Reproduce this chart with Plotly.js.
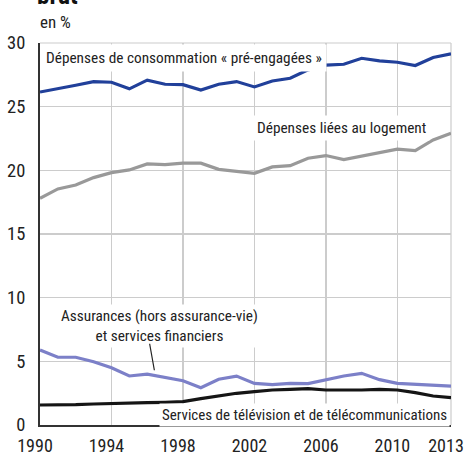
<!DOCTYPE html>
<html><head><meta charset="utf-8">
<script src="https://cdn.plot.ly/plotly-3.0.1.min.js"></script>
<style>html,body{margin:0;padding:0;background:#fff;}#c{width:465px;height:457px;}</style>
</head><body><div id="c"></div>
<script>
const years = [1990,1991,1992,1993,1994,1995,1996,1997,1998,1999,2000,2001,2002,2003,2004,2005,2006,2007,2008,2009,2010,2011,2012,2013];
const preEngagees = [26.15,26.4,26.68,26.97,26.92,26.4,27.08,26.76,26.73,26.3,26.76,26.97,26.55,27.02,27.23,27.89,28.26,28.33,28.8,28.6,28.49,28.23,28.86,29.15];
const logement = [17.81,18.54,18.85,19.43,19.82,20.03,20.5,20.45,20.56,20.56,20.08,19.9,19.77,20.27,20.37,20.95,21.16,20.84,21.1,21.37,21.66,21.55,22.39,22.91];
const assurances = [5.89,5.32,5.32,4.97,4.5,3.85,4.0,3.72,3.48,2.93,3.59,3.84,3.27,3.17,3.27,3.25,3.53,3.85,4.06,3.56,3.27,3.22,3.14,3.06];
const telecom = [1.57,1.57,1.6,1.65,1.7,1.73,1.75,1.78,1.83,2.07,2.28,2.49,2.62,2.75,2.8,2.85,2.75,2.73,2.75,2.8,2.75,2.54,2.28,2.15];
const xTicks = [1990,1994,1998,2002,2006,2010,2013];
const yTicks = [0,5,10,15,20,25,30];

const F = '"Liberation Sans Narrow", "Arial Narrow", "Roboto Condensed", Roboto, sans-serif';
function tr(y, color){ return {x: years, y: y, type:'scatter', mode:'lines', line:{color:color, width:3.2}, hoverinfo:'skip'}; }
const data = [tr(logement,'#999999'), tr(assurances,'#7c80c8'), tr(telecom,'#151515'), tr(preEngagees,'#21409a')];

const layout = {
  width:465, height:457,
  margin:{l:40, r:14, t:43, b:32},
  paper_bgcolor:'#fff', plot_bgcolor:'#fff',
  showlegend:false,
  font:{family:F, size:15, color:'#222'},
  xaxis:{range:[1990,2013], tickvals:xTicks, ticktext:xTicks.map(String), showgrid:true, gridcolor:'#cccccc', gridwidth:1.2,
         showline:true, linecolor:'#333', linewidth:2, zeroline:false, ticks:'outside', ticklen:3, tickcolor:'rgba(0,0,0,0)',
         ticklabelshift:-5, ticklabeloverflow:'allow',
         tickfont:{family:F, size:18, color:'#222'}, fixedrange:true},
  yaxis:{range:[0,30], tickvals:yTicks, showgrid:true, gridcolor:'#cccccc', gridwidth:1.2,
         showline:true, linecolor:'#333', linewidth:2, zeroline:false, ticks:'outside', ticklen:9, tickcolor:'rgba(0,0,0,0)',
         tickfont:{family:F, size:18.5, color:'#222'}, fixedrange:true},
  shapes:[
    {type:'line', xref:'paper', yref:'paper', x0:0, x1:1, y0:1, y1:1, line:{color:'#cccccc', width:1.2}, layer:'below'},
    {type:'line', xref:'paper', yref:'paper', x0:1, x1:1, y0:0, y1:1, line:{color:'#cccccc', width:1.2}, layer:'below'}
  ],
  annotations:[
    {text:'<b>brut</b>', xref:'paper', yref:'paper', x:-0.012, y:1.0, yshift:31, xanchor:'left', yanchor:'bottom', showarrow:false, font:{family:F, size:25, color:'#111'}},
    {text:'en %', xref:'paper', yref:'paper', x:-0.005, y:1.0, yshift:9, xanchor:'left', yanchor:'bottom', showarrow:false, font:{family:F, size:17, color:'#222'}},
    {text:'Dépenses de consommation « pré-engagées »', xref:'x', yref:'y', x:1990.05, y:28.85, xanchor:'left', yanchor:'middle', showarrow:false, bgcolor:'#fff', borderpad:4, font:{family:F, size:15.3, color:'#222'}},
    {text:'Dépenses liées au logement', xref:'x', yref:'y', x:2011.85, y:23.3, xanchor:'right', yanchor:'middle', showarrow:false, bgcolor:'#fff', borderpad:3, font:{family:F, size:15.3, color:'#222'}},
    {text:'Assurances (hors assurance-vie)<br>et services financiers', xref:'x', yref:'y', x:1996.7, y:7.8, xanchor:'center', yanchor:'middle', align:'center', showarrow:false, bgcolor:'#fff', borderpad:2, font:{family:F, size:15.3, color:'#222'}},
    {text:'', xref:'x', yref:'y', x:1996.4, y:4.3, ax:-5, ay:-28, showarrow:true, arrowhead:0, arrowwidth:1.2, arrowcolor:'#222'},
    {text:'Services de télévision et de télécommunications', xref:'x', yref:'y', x:2012.92, y:0.75, xanchor:'right', yanchor:'middle', showarrow:false, bgcolor:'#fff', borderpad:2, font:{family:F, size:15.0, color:'#222'}}
  ]
};
Plotly.newPlot('c', data, layout, {displayModeBar:false, staticPlot:true});
</script></body></html>
